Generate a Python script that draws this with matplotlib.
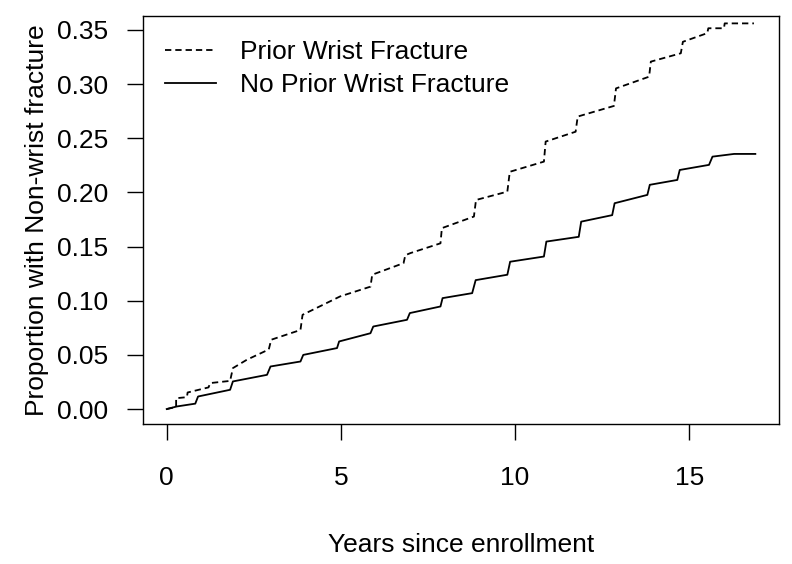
import matplotlib
matplotlib.use('Agg')
import matplotlib.pyplot as plt

plt.rcParams['font.family'] = ['Liberation Sans', 'DejaVu Sans']

# prior wrist fracture (dashed)
prior_x = [0, 0.27, 0.27, 0.58, 0.6, 1.2, 1.25, 1.82, 1.9, 2.3, 2.93, 3.0, 3.84, 3.9,
           4.98, 5.85, 5.9, 6.8, 6.85, 7.0, 7.86, 7.9, 8.82, 8.88, 9.78, 9.85,
           10.83, 10.88, 11.74, 11.8, 12.84, 12.9, 13.85, 13.9, 14.76, 14.82,
           15.52, 15.55, 16.0, 16.02, 16.86]
prior_y = [0, 0.002, 0.010, 0.011, 0.0153, 0.020, 0.024, 0.026, 0.0378, 0.0455, 0.055,
           0.064, 0.073, 0.087, 0.104, 0.113, 0.124, 0.1347, 0.142, 0.144, 0.153,
           0.167, 0.1777, 0.193, 0.2007, 0.219, 0.2284, 0.2469, 0.256, 0.270,
           0.2798, 0.296, 0.3068, 0.3207, 0.3284, 0.339, 0.347, 0.3515, 0.3515,
           0.356, 0.356]

# no prior wrist fracture (solid)
noprior_x = [0, 0.29, 0.82, 0.9, 1.82, 1.9, 2.88, 2.98, 3.84, 3.92, 4.89, 4.95,
             5.85, 5.93, 6.9, 6.98, 7.86, 7.92, 8.77, 8.87, 9.78, 9.86, 10.83,
             10.9, 11.83, 11.9, 12.79, 12.86, 13.8, 13.87, 14.66, 14.73, 15.57,
             15.67, 16.29, 16.9]
noprior_y = [0, 0.0024, 0.005, 0.0116, 0.0178, 0.0255, 0.0316, 0.0393, 0.0439,
             0.050, 0.0563, 0.0624, 0.070, 0.0762, 0.0824, 0.0886, 0.0947, 0.1024,
             0.107, 0.119, 0.124, 0.136, 0.1408, 0.1546, 0.159, 0.173, 0.179,
             0.190, 0.1977, 0.207, 0.2115, 0.2207, 0.2254, 0.233, 0.2355, 0.2355]

x_ticks = [0, 5, 10, 15]
y_ticks = [0.00, 0.05, 0.10, 0.15, 0.20, 0.25, 0.30, 0.35]

FS = 19

fig = plt.figure(figsize=(7.92, 5.64), dpi=100)
ax = fig.add_axes([0.1806, 0.2482, 0.9836 - 0.1806, 0.9716 - 0.2482])

ax.plot(prior_x, prior_y, color='black', lw=1.3, linestyle=(0, (3.5, 2.2)),
        label='Prior Wrist Fracture')
ax.plot(noprior_x, noprior_y, color='black', lw=1.3, label='No Prior Wrist Fracture')

ax.set_xlim(-0.68, 17.58)
ax.set_ylim(-0.0138, 0.3628)
ax.set_xticks(x_ticks)
ax.set_xticklabels([str(t) for t in x_ticks])
ax.set_yticks(y_ticks)
ax.set_yticklabels(['%.2f' % t for t in y_ticks])
ax.tick_params(axis='both', direction='out', length=11.5, width=1, labelsize=FS)
ax.tick_params(axis='x', pad=19)
ax.tick_params(axis='y', pad=13.5)
for s in ax.spines.values():
    s.set_linewidth(1)

ax.set_xlabel('Years since enrollment', fontsize=FS, labelpad=31)
ax.set_ylabel('Proportion with Non-wrist fracture', fontsize=FS, labelpad=6)

ax.legend(loc='upper left', bbox_to_anchor=(0.035, 0.941), frameon=False,
          fontsize=FS, handlelength=1.93, handletextpad=0.9, labelspacing=0.35,
          borderpad=0, borderaxespad=0)

fig.savefig('out.png', dpi=100)
